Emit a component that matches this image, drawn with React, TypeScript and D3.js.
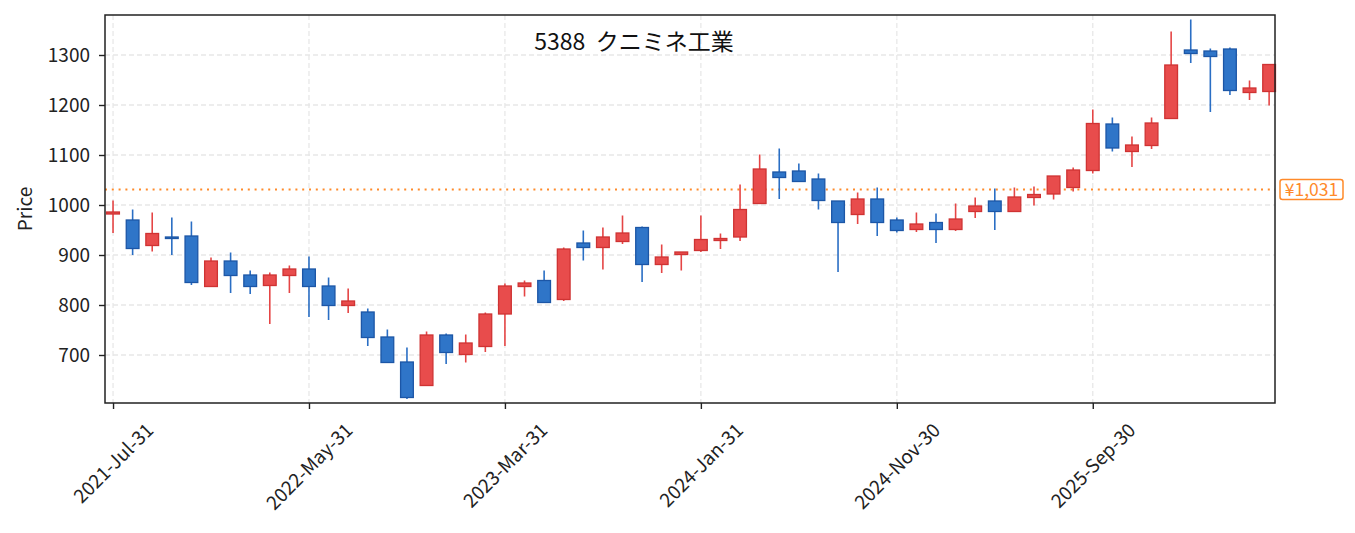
import { useEffect, useRef } from "react";
import * as d3 from "d3";

// monthly candles, 2021-07 .. 2026-06
const months = d3.timeMonths(new Date(2021, 6, 1), new Date(2026, 6, 1));

const opens = [
  982, 970, 919, 936, 938, 837, 888, 860, 839, 859,
  872, 838, 799, 786, 736, 686, 639, 740, 701, 717,
  782, 837, 849, 811, 924, 915, 927, 955, 881, 901,
  909, 929, 936, 1003, 1066, 1068, 1052, 1008, 981, 1012,
  970, 951, 965, 951, 987, 1008, 987, 1015, 1022, 1035,
  1069, 1162, 1107, 1119, 1173, 1310, 1308, 1312, 1225, 1227,
];
const highs = [
  1009, 991, 985, 975, 967, 895, 905, 869, 865, 879,
  897, 855, 833, 793, 751, 715, 747, 743, 741, 785,
  843, 849, 869, 915, 949, 955, 979, 957, 921, 906,
  979, 943, 1041, 1101, 1113, 1083, 1063, 1008, 1025, 1035,
  975, 985, 983, 1003, 1015, 1033, 1035, 1037, 1058, 1075,
  1191, 1175, 1137, 1175, 1347, 1371, 1313, 1315, 1249, 1281,
];
const lows = [
  944, 900, 907, 900, 840, 837, 824, 822, 762, 824,
  776, 770, 784, 718, 685, 612, 639, 682, 685, 706,
  718, 817, 805, 808, 889, 871, 922, 846, 864, 869,
  906, 912, 928, 1003, 1012, 1047, 991, 866, 962, 938,
  945, 946, 924, 948, 974, 950, 987, 999, 1011, 1027,
  1063, 1107, 1076, 1112, 1173, 1284, 1186, 1220, 1210, 1199,
];
const closes = [
  986, 913, 943, 933, 845, 888, 859, 837, 860, 872,
  837, 799, 808, 735, 685, 615, 740, 705, 724, 782,
  838, 844, 805, 912, 915, 936, 944, 881, 896, 906,
  931, 933, 991, 1072, 1055, 1047, 1009, 965, 1012, 965,
  949, 962, 951, 972, 998, 987, 1016, 1021, 1058, 1070,
  1163, 1114, 1120, 1164, 1280, 1303, 1297, 1229, 1234, 1281,
];

const yTicks = [700, 800, 900, 1000, 1100, 1200, 1300];
const refPrice = 1031;
const title = "5388  クニミネ工業";

const W = 1355;
const H = 533;
const margin = { top: 15, right: 80, bottom: 130, left: 105 };
const FONT = "'Noto Sans CJK JP', 'Noto Sans', sans-serif";
const TICK_FS = 19;

const UP_FILL = "#e84c4c";
const UP_EDGE = "#cf3333";
const DN_FILL = "#2f75c8";
const DN_EDGE = "#1c56a6";
const REF = "#ff8a2a";

export default function App() {
  const svgRef = useRef<SVGSVGElement | null>(null);

  useEffect(() => {
    const svg = d3.select(svgRef.current);
    svg.selectAll("*").remove();

    const x0 = margin.left;
    const x1 = W - margin.right;
    const y0 = margin.top;
    const y1 = H - margin.bottom;

    const x = d3.scaleLinear().domain([-0.41, 59.3]).range([x0, x1]);
    const y = d3.scaleLinear().domain([604, 1380]).range([y1, y0]);
    const fmt = d3.timeFormat("%Y-%b-%d");
    const monthEnd = (i: number) => d3.timeDay.offset(d3.timeMonth.offset(months[i], 1), -1);

    const xTickIdx = d3.range(0, months.length, 10);

    // grid
    const grid = svg.append("g");
    grid
      .selectAll("line.gy")
      .data(yTicks)
      .join("line")
      .attr("x1", x0)
      .attr("x2", x1)
      .attr("y1", (d) => y(d))
      .attr("y2", (d) => y(d))
      .attr("stroke", "#e8e8e8")
      .attr("stroke-width", 1.3)
      .attr("stroke-dasharray", "5,3");
    grid
      .selectAll("line.gx")
      .data(xTickIdx)
      .join("line")
      .attr("x1", (d) => x(d))
      .attr("x2", (d) => x(d))
      .attr("y1", y0)
      .attr("y2", y1)
      .attr("stroke", "#e8e8e8")
      .attr("stroke-width", 1.3)
      .attr("stroke-dasharray", "5,3");

    // reference line
    svg
      .append("line")
      .attr("x1", x0)
      .attr("x2", x1)
      .attr("y1", y(refPrice))
      .attr("y2", y(refPrice))
      .attr("stroke", REF)
      .attr("stroke-width", 2)
      .attr("stroke-dasharray", "2,4.8");

    // candles
    const data = months.map((m, i) => ({
      i,
      o: opens[i],
      h: highs[i],
      l: lows[i],
      c: closes[i],
    }));
    const bw = (x(1) - x(0)) * 0.65;
    const g = svg.append("g");
    g.selectAll("line.wick")
      .data(data)
      .join("line")
      .attr("x1", (d) => x(d.i))
      .attr("x2", (d) => x(d.i))
      .attr("y1", (d) => y(d.h))
      .attr("y2", (d) => y(d.l))
      .attr("stroke", (d) => (d.c >= d.o ? "#e54545" : "#2a6ec4"))
      .attr("stroke-width", 1.6);
    g.selectAll("rect.body")
      .data(data)
      .join("rect")
      .attr("x", (d) => x(d.i) - bw / 2)
      .attr("width", bw)
      .attr("y", (d) => y(Math.max(d.o, d.c)))
      .attr("height", (d) => Math.max(1, Math.abs(y(d.o) - y(d.c))))
      .attr("fill", (d) => (d.c >= d.o ? UP_FILL : DN_FILL))
      .attr("stroke", (d) => (d.c >= d.o ? UP_EDGE : DN_EDGE))
      .attr("stroke-width", 1.3);

    // frame
    svg
      .append("rect")
      .attr("x", x0)
      .attr("y", y0)
      .attr("width", x1 - x0)
      .attr("height", y1 - y0)
      .attr("fill", "none")
      .attr("stroke", "#222")
      .attr("stroke-width", 1.5);

    // y axis
    const yAxis = svg
      .append("g")
      .attr("transform", `translate(${x0},0)`)
      .call(
        d3
          .axisLeft(y)
          .tickValues(yTicks)
          .tickFormat(d3.format("d"))
          .tickSize(6)
          .tickPadding(9)
      );
    yAxis.select(".domain").remove();
    yAxis.selectAll("line").attr("stroke", "#222").attr("stroke-width", 1.4);
    yAxis
      .selectAll("text")
      .attr("fill", "#222")
      .style("font-family", FONT)
      .style("font-size", `${TICK_FS}px`);

    // x axis
    const xAxis = svg
      .append("g")
      .attr("transform", `translate(0,${y1})`)
      .call(
        d3
          .axisBottom(x)
          .tickValues(xTickIdx)
          .tickFormat((d) => fmt(monthEnd(+d)))
          .tickSize(6)
      );
    xAxis.select(".domain").remove();
    xAxis.selectAll("line").attr("stroke", "#222").attr("stroke-width", 1.4);
    xAxis
      .selectAll<SVGTextElement, number>("text")
      .attr("fill", "#222")
      .style("font-family", FONT)
      .style("font-size", `${TICK_FS}px`)
      .style("text-anchor", "middle")
      .attr("y", 0)
      .attr("dy", "0.35em")
      .attr("transform", function () {
        // rotated box centred under the tick, top edge just below it
        const L = this.getComputedTextLength();
        const half = (L + TICK_FS) / (2 * Math.SQRT2);
        return `translate(0,${17 + half}) rotate(-45)`;
      });

    // y label
    svg
      .append("text")
      .attr("transform", `translate(32,${(y0 + y1) / 2}) rotate(-90)`)
      .attr("text-anchor", "middle")
      .style("font-family", FONT)
      .style("font-size", `${TICK_FS}px`)
      .attr("fill", "#222")
      .text("Price");

    // title
    svg
      .append("text")
      .attr("x", 634)
      .attr("y", 50)
      .attr("text-anchor", "middle")
      .style("font-family", FONT)
      .style("font-size", "23px")
      .style("white-space", "pre")
      .attr("fill", "#111")
      .text(title);

    // price tag
    const tag = svg.append("g").attr("transform", `translate(${x1 + 5},${y(refPrice)})`);
    const label = "¥" + d3.format(",")(refPrice);
    tag
      .append("rect")
      .attr("x", 0)
      .attr("y", -10)
      .attr("width", 63)
      .attr("height", 20)
      .attr("rx", 2.5)
      .attr("fill", "white")
      .attr("stroke", REF)
      .attr("stroke-width", 1.5);
    tag
      .append("text")
      .attr("x", 31.5)
      .attr("y", 0)
      .attr("dy", "0.35em")
      .attr("text-anchor", "middle")
      .style("font-family", FONT)
      .style("font-size", "17.5px")
      .attr("fill", REF)
      .text(label);
  }, []);

  return (
    <svg
      ref={svgRef}
      width={W}
      height={H}
      style={{ position: "absolute", left: 0, top: 0, background: "white" }}
    />
  );
}
